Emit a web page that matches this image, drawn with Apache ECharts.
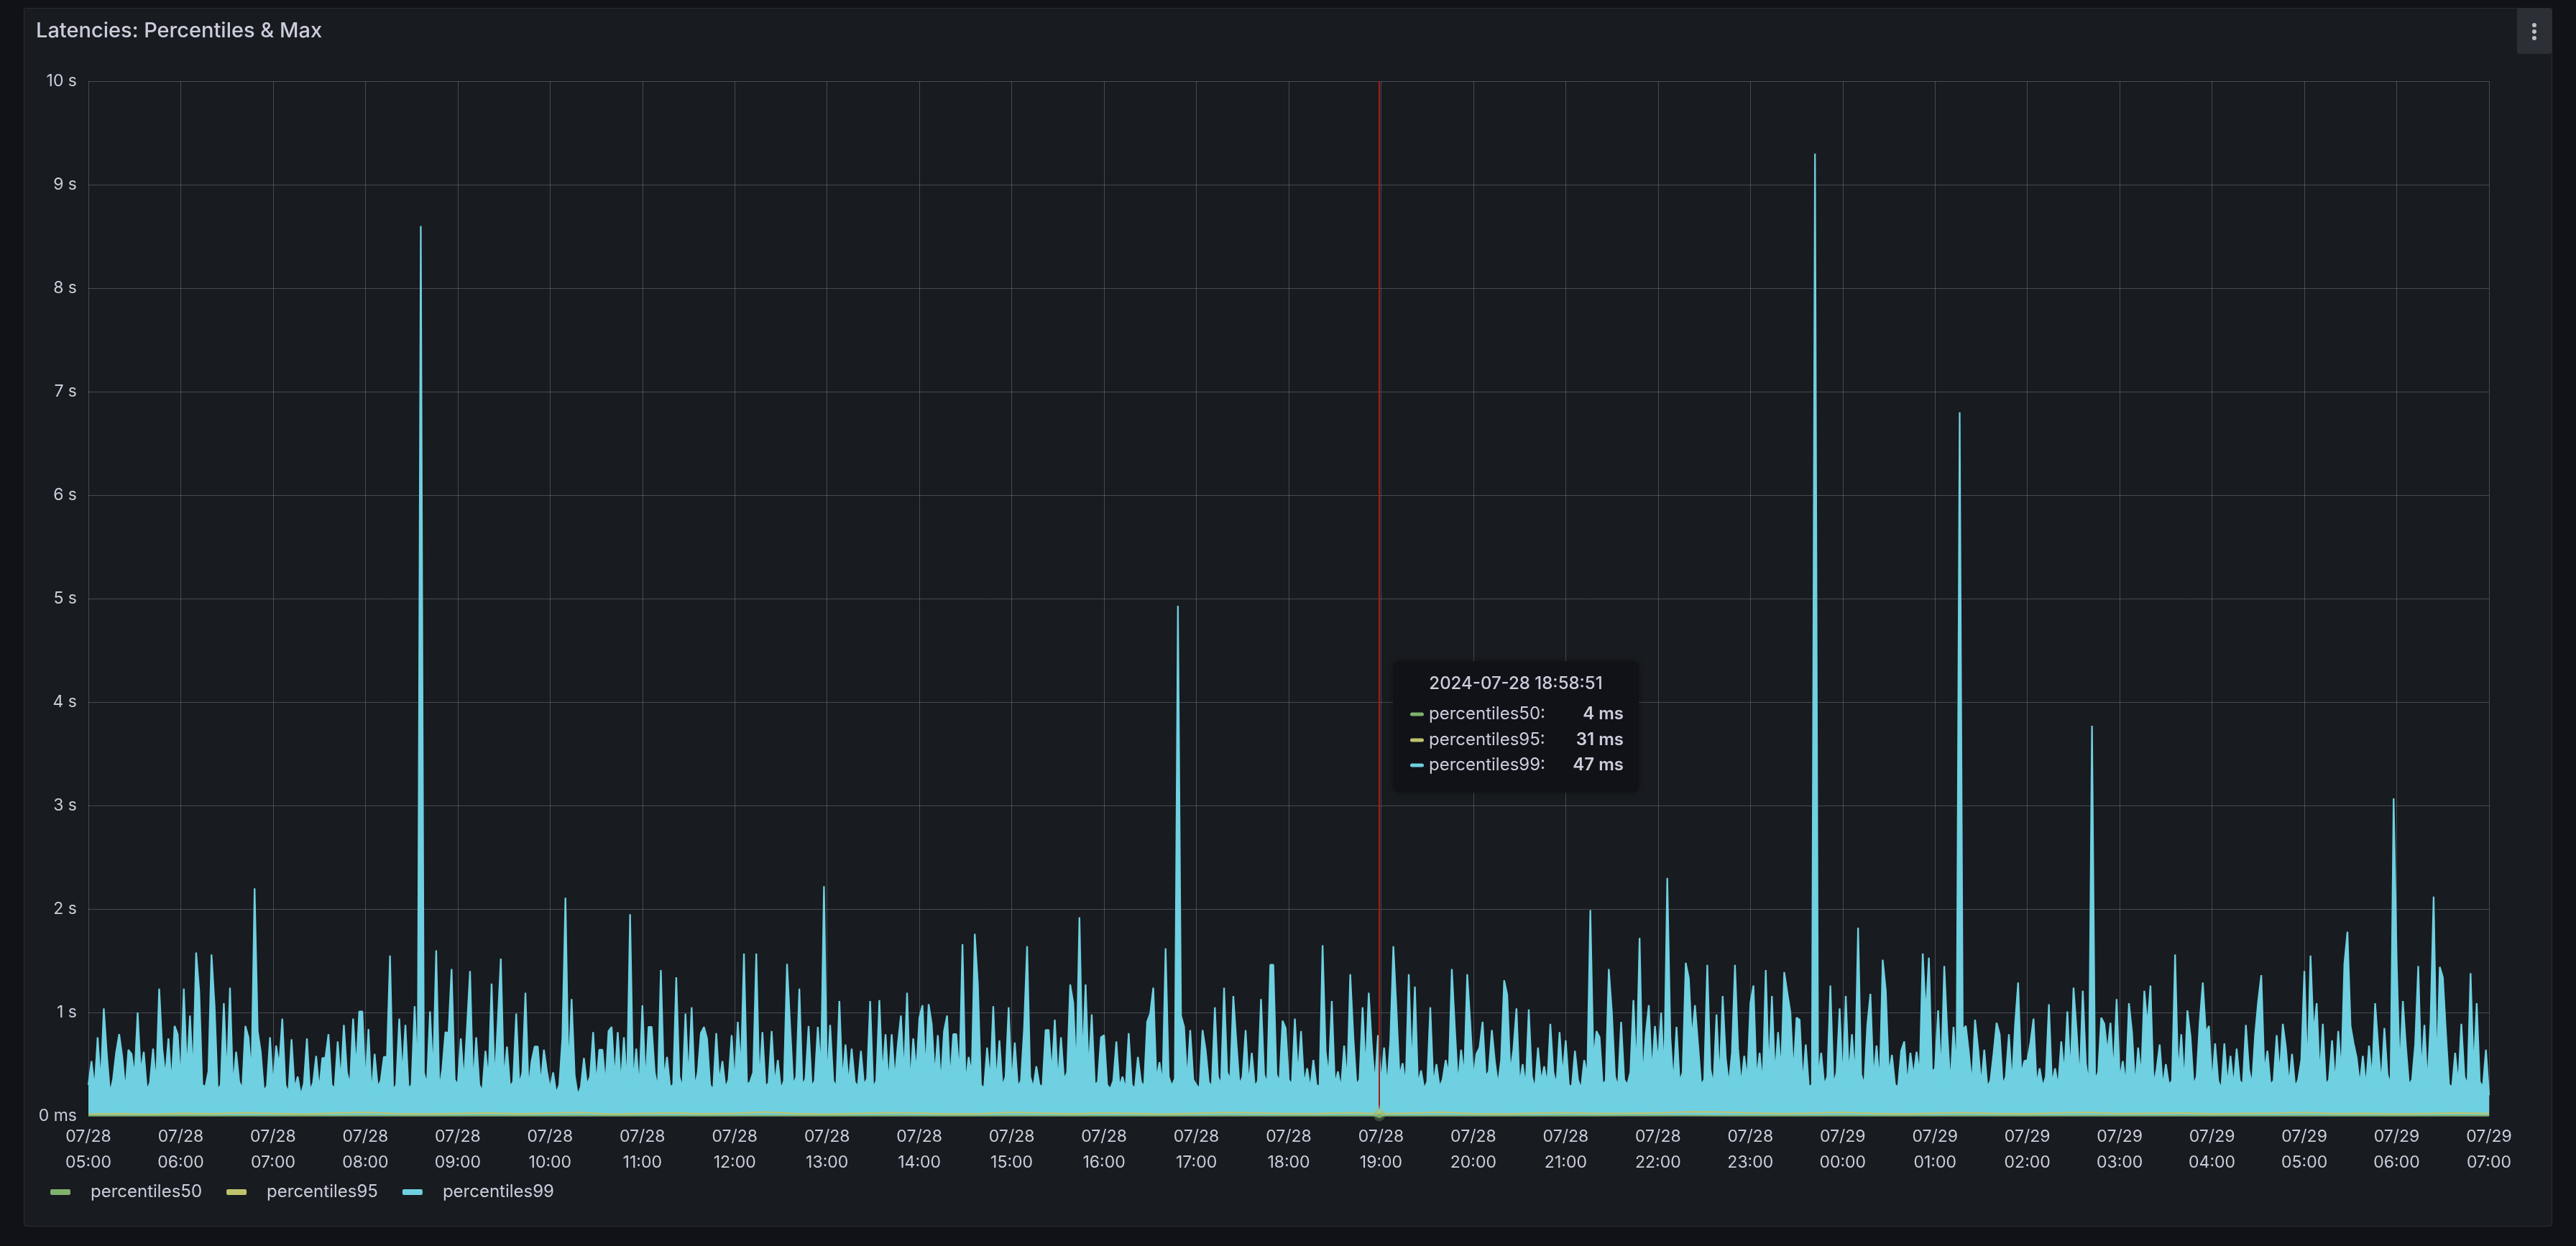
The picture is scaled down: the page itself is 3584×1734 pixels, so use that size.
<!DOCTYPE html>
<html>
<head>
<meta charset="utf-8">
<title>Latencies: Percentiles &amp; Max</title>
<script src="https://cdn.jsdelivr.net/npm/echarts/dist/echarts.min.js"></script>
<style>
  html, body { margin: 0; padding: 0; background: #111217; width: 3584px; height: 1734px; overflow: hidden; }
  #panel { position: absolute; left: 33px; top: 11px; width: 3516px; height: 1694px;
           background: #181b1f; border: 1px solid #2a2d32; border-radius: 3px; }
  #chart { width: 3516px; height: 1694px; }
</style>
</head>
<body>
<div id="panel"><div id="chart"></div></div>
<script>
// time range 07/28 05:00 -> 07/29 07:00
const startTime = new Date(2024, 6, 28, 5, 0, 0).getTime();
const endTime = new Date(2024, 6, 29, 7, 0, 0).getTime();
const p99StepMin = 2;
const lowStepMin = 20;

// percentiles99, ms, one value every 2 minutes (one row per hour)
const p99 = [
  300,530,260,760,310,1040,590,220,350,610,790,570,240,640,600,380,1000,420,620,250,320,650,300,1230,650,380,750,300,870,790,
  330,1230,420,970,380,1580,1210,300,280,430,1560,1060,250,300,1090,350,1240,270,620,330,260,870,760,400,2200,820,620,240,290,760,
  280,680,480,940,300,220,740,260,380,200,310,750,240,320,580,250,560,560,790,300,260,720,330,880,420,300,940,450,1010,1010,
  300,840,200,600,280,340,570,570,1550,250,300,940,380,880,260,300,1060,340,8600,420,300,1010,380,1600,260,450,810,800,1420,350,
  300,750,320,850,1400,280,760,300,240,630,350,1280,310,900,1520,340,670,280,330,990,300,420,1190,260,530,670,670,300,640,430,
  260,420,220,300,750,2110,380,1130,390,200,280,560,300,380,810,300,640,640,300,820,860,350,810,300,760,280,1950,300,650,260,
  1070,300,860,860,420,260,1410,350,570,280,300,1340,380,270,990,320,1050,280,420,800,860,750,300,250,800,330,530,270,350,780,
  300,910,420,1570,300,330,420,1570,300,810,280,320,820,300,540,260,340,1470,870,300,380,1230,290,360,870,280,340,860,420,2220,
  300,880,340,280,1110,320,690,300,650,330,280,630,300,360,1110,270,340,1120,380,790,300,790,350,690,970,380,1190,300,750,420,
  950,1070,420,1080,890,380,780,300,820,970,340,790,790,380,1660,300,570,400,1760,1270,300,260,660,330,1060,300,730,280,380,1050,
  300,710,280,340,840,1640,380,270,480,300,280,830,830,400,930,320,760,350,420,1270,1090,400,1920,500,1270,420,980,300,330,760,
  780,300,260,340,720,280,380,250,800,300,260,570,330,280,910,990,1240,350,520,300,1620,380,290,360,4930,970,860,330,830,350,
  300,260,830,640,330,280,1050,380,300,1240,420,350,1160,710,300,380,830,300,610,280,340,1130,400,310,1460,1460,400,330,920,850,
  350,300,940,380,820,300,460,260,540,300,280,1650,620,380,1110,300,430,260,680,320,1370,760,300,350,1050,420,1190,680,300,780,
  300,660,280,720,1640,1030,380,510,300,1370,420,1250,300,440,260,330,1050,300,500,280,350,540,400,1420,840,300,640,380,1370,890,
  360,600,660,910,380,430,830,520,300,540,1310,1170,420,640,1040,300,500,280,1030,380,260,660,330,480,300,890,420,300,810,380,
  730,300,280,630,350,260,540,380,1990,530,820,760,300,340,1420,1000,380,280,910,350,300,420,1120,400,1720,330,790,1070,400,870,
  510,1000,380,2300,760,300,860,330,420,1480,1330,740,1070,690,300,350,1460,450,300,980,330,1160,560,300,610,1460,650,300,580,350,
  1090,1260,350,610,300,1410,400,1160,380,810,420,1390,1190,1000,400,950,930,300,690,280,300,9300,350,610,300,380,1260,300,420,1040,
  300,1160,380,790,350,1820,400,300,880,1180,350,680,300,1510,1210,400,590,300,280,630,720,300,610,380,620,400,1570,970,1530,420,
  460,1020,380,1450,790,300,860,400,6800,830,870,610,300,930,650,300,640,280,340,600,900,790,300,380,790,300,880,1290,400,530,
  540,710,940,300,460,280,380,1080,300,460,280,720,400,1010,380,1240,820,330,1210,510,300,3770,350,420,950,890,610,900,400,1130,
  350,530,300,1090,810,280,660,380,1210,870,1260,300,450,690,280,500,300,340,1560,380,790,300,1020,770,300,380,910,1290,800,870,
  300,700,340,260,700,300,580,280,650,340,300,880,450,300,790,1110,1360,420,630,300,340,780,400,890,660,300,600,280,350,540,
  1400,400,1550,790,1090,380,890,300,350,730,300,820,400,1470,1780,870,700,560,300,580,280,680,350,1090,670,300,850,400,300,3070,
  1480,420,1110,670,300,350,690,1450,400,880,300,910,2120,400,1440,1340,800,300,280,610,300,890,380,300,1380,420,1090,330,280,640,
  200
];

// percentiles95 and percentiles50, ms, one value every 20 minutes
const p95 = [
  18,22,15,26,20,31,24,17,28,35,
  22,19,25,30,21,27,33,18,24,29,
  20,26,38,22,17,25,31,28,19,23,
  34,27,21,30,24,18,26,33,29,22,
  25,31,20,28,36,23,19,27,32,24,
  26,30,40,38,30,22,28,35,24,19,
  27,31,25,21,29,34,23,26,30,20,
  24,28,33,22,26,19,25,30,23
];
const p50 = [
  3,4,3,5,4,4,3,5,4,6,
  4,3,4,5,3,4,5,3,4,4,
  3,4,6,4,3,4,5,4,3,4,
  5,4,3,4,4,3,4,5,4,3,
  4,5,3,4,6,4,3,4,5,4,
  5,6,5,4,4,3,4,5,4,3,
  4,5,4,3,4,5,4,4,5,3,
  4,4,5,3,4,3,4,5,4
];

const seriesNames = ['percentiles50', 'percentiles95', 'percentiles99'];
const seriesColors = ['#7eb26d', '#c1c36c', '#6ed0e0'];
const yTicks = [0, 1000, 2000, 3000, 4000, 5000, 6000, 7000, 8000, 9000, 10000];

// hovered point shown in the tooltip
const hoverTime = new Date(2024, 6, 28, 18, 58, 51).getTime();
const hoverLabel = '2024-07-28 18:58:51';
const hoverValues = [4, 31, 47];

const textColor = '#ccccdc';
const gridColor = 'rgba(204,204,220,0.26)';
const font = 'Inter';

function pad(n) { return (n < 10 ? '0' : '') + n; }
function toPairs(arr, stepMin) {
    return arr.map(function (v, i) { return [startTime + i * stepMin * 60000, v]; });
}

const chart = echarts.init(document.getElementById('chart'));

option = {
    animation: false,
    backgroundColor: 'transparent',
    title: {
        text: 'Latencies: Percentiles & Max',
        left: 16,
        top: 14,
        padding: 0,
        textStyle: { color: textColor, fontSize: 29, fontWeight: 500, fontFamily: font, lineHeight: 34 }
    },
    legend: {
        left: 36,
        top: 1633,
        padding: 0,
        itemWidth: 28,
        itemHeight: 8,
        itemGap: 34,
        icon: 'roundRect',
        selectedMode: false,
        data: seriesNames,
        textStyle: { color: textColor, fontSize: 24, fontFamily: font, lineHeight: 28, padding: [0, 0, 0, 23] }
    },
    grid: { left: 89, right: 87, top: 101, bottom: 153, containLabel: false },
    xAxis: {
        type: 'value',
        min: startTime,
        max: endTime,
        interval: 3600000,
        axisLine: { show: false },
        axisTick: { show: false },
        splitLine: { show: true, lineStyle: { color: gridColor, width: 1 } },
        axisLabel: {
            color: textColor, fontSize: 23, fontFamily: font, lineHeight: 36, margin: 11,
            showMinLabel: true, showMaxLabel: true, hideOverlap: false,
            formatter: function (val) {
                const d = new Date(val);
                return pad(d.getMonth() + 1) + '/' + pad(d.getDate()) + '\n' + pad(d.getHours()) + ':' + pad(d.getMinutes());
            }
        }
    },
    yAxis: {
        type: 'value',
        min: yTicks[0],
        max: yTicks[yTicks.length - 1],
        interval: yTicks[1] - yTicks[0],
        axisLine: { show: false },
        axisTick: { show: false },
        splitLine: { show: true, lineStyle: { color: gridColor, width: 1 } },
        axisLabel: {
            color: textColor, fontSize: 23, fontFamily: font, margin: 16,
            formatter: function (v) { return v === 0 ? '0 ms' : (v / 1000) + ' s'; }
        }
    },
    series: [
        {
            name: seriesNames[0],
            type: 'line',
            data: toPairs(p50, lowStepMin),
            showSymbol: false,
            z: 4,
            color: seriesColors[0],
            lineStyle: { width: 2, color: seriesColors[0] }
        },
        {
            name: seriesNames[1],
            type: 'line',
            data: toPairs(p95, lowStepMin),
            showSymbol: false,
            z: 3,
            color: seriesColors[1],
            lineStyle: { width: 2, color: seriesColors[1] }
        },
        {
            name: seriesNames[2],
            type: 'line',
            data: toPairs(p99, p99StepMin),
            showSymbol: false,
            sampling: null,
            z: 2,
            color: seriesColors[2],
            lineStyle: { width: 2.3, color: seriesColors[2] },
            areaStyle: { color: seriesColors[2], opacity: 1 },
            markLine: {
                silent: true,
                symbol: 'none',
                label: { show: false },
                lineStyle: { color: '#a31f17', width: 2, type: 'solid' },
                data: [{ xAxis: hoverTime }]
            }
        }
    ]
};
chart.setOption(option);

// tooltip box, hover dots and panel menu button
const base = chart.convertToPixel({ xAxisIndex: 0, yAxisIndex: 0 }, [hoverTime, 0]);
const boxX = base[0] + 19, boxY = 908;
const graphics = [];
[2, 1, 0].forEach(function (i) {
    const p = chart.convertToPixel({ xAxisIndex: 0, yAxisIndex: 0 }, [hoverTime, hoverValues[i]]);
    graphics.push({ type: 'circle', shape: { cx: p[0], cy: p[1], r: 8 }, style: { fill: seriesColors[i], opacity: 0.3 }, z: 100 });
    graphics.push({ type: 'circle', shape: { cx: p[0], cy: p[1], r: 3 }, style: { fill: seriesColors[i] }, z: 101 });
});
graphics.push({
    type: 'rect', z: 110,
    shape: { x: boxX, y: boxY, width: 342, height: 183, r: 9 },
    style: { fill: '#111217', shadowBlur: 10, shadowColor: 'rgba(0,0,0,0.35)' }
});
graphics.push({
    type: 'text', z: 111, x: boxX + 171, y: boxY + 32,
    style: { text: hoverLabel, fill: textColor, font: '500 24px Inter', textAlign: 'center', textVerticalAlign: 'middle' }
});
const rowY = [74, 110, 145];
seriesNames.forEach(function (name, i) {
    graphics.push({
        type: 'rect', z: 111,
        shape: { x: boxX + 24, y: boxY + rowY[i] - 2.5, width: 19, height: 5, r: 2.5 },
        style: { fill: seriesColors[i] }
    });
    graphics.push({
        type: 'text', z: 111, x: boxX + 50, y: boxY + rowY[i],
        style: { text: name + ':', fill: textColor, font: '400 24px Inter', textAlign: 'left', textVerticalAlign: 'middle' }
    });
    graphics.push({
        type: 'text', z: 111, x: boxX + 321, y: boxY + rowY[i],
        style: { text: hoverValues[i] + ' ms', fill: textColor, font: '600 24px Inter', textAlign: 'right', textVerticalAlign: 'middle' }
    });
});
graphics.push({
    type: 'rect', z: 120,
    shape: { x: 3468, y: 0, width: 48, height: 63, r: [0, 3, 3, 3] },
    style: { fill: '#2c2f35' }
});
[23, 32, 41].forEach(function (y) {
    graphics.push({ type: 'circle', z: 121, shape: { cx: 3492, cy: y, r: 3 }, style: { fill: '#b7c0c4' } });
});
chart.setOption({ graphic: graphics });
</script>
</body>
</html>
